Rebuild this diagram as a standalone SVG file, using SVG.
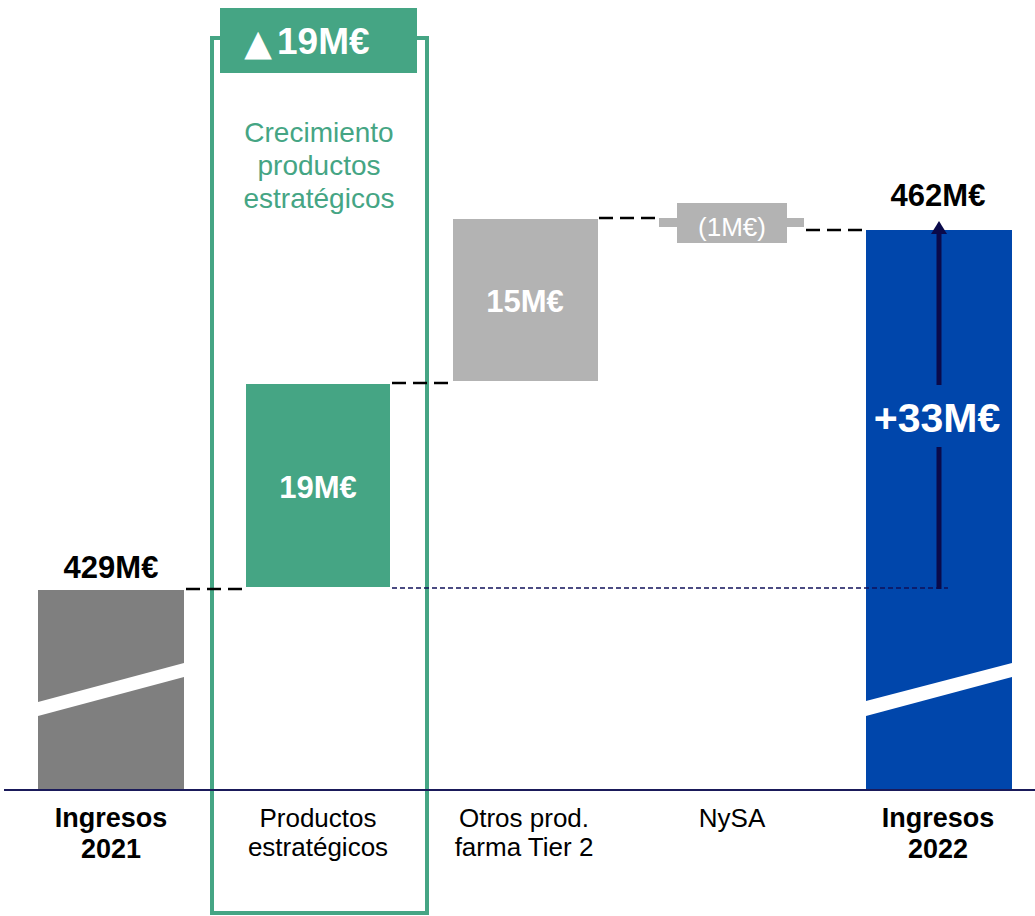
<svg xmlns="http://www.w3.org/2000/svg" width="1035" height="916" viewBox="0 0 1035 916">
<style>
text{font-family:"Liberation Sans",Arial,sans-serif;text-anchor:middle}
.b{font-weight:bold}
.lbl{font-size:26px;fill:#000}
.lblb{font-size:27px;fill:#000;font-weight:bold}
.val{font-size:31px;fill:#fff;font-weight:bold}
.dash{stroke:#000;stroke-width:2.5;stroke-dasharray:14 7;fill:none}
</style>
<rect width="1035" height="916" fill="#fff"/>
<g id="highlight">
<rect x="212" y="38" width="215" height="875" fill="none" stroke="#45a584" stroke-width="4"/>
<rect x="220" y="8" width="197" height="65" fill="#45a584"/>
<text x="258" y="55" style="font-family:'DejaVu Sans',sans-serif;font-size:36px" fill="#fff">▲</text>
<text x="277" y="54" class="b" style="text-anchor:start;font-size:37px" fill="#fff">19M€</text>
<text x="319" y="142" style="font-size:28px" fill="#45a584">Crecimiento</text>
<text x="319" y="175" style="font-size:28px" fill="#45a584">productos</text>
<text x="319" y="208" style="font-size:28px" fill="#45a584">estratégicos</text>
</g>
<g id="bar2021">
<rect x="38" y="590" width="146" height="200" fill="#7f7f7f"/>
<polygon points="38,702 184,663 184,677 38,716" fill="#fff"/>
<text x="111" y="578" class="b" style="font-size:31px">429M€</text>
<text x="111" y="827" class="lblb">Ingresos</text>
<text x="111" y="858" class="lblb">2021</text>
</g>
<g id="bar-estrategicos">
<rect x="246" y="384" width="144" height="203" fill="#45a584"/>
<text x="318" y="498" class="val">19M€</text>
<text x="318" y="827" class="lbl">Productos</text>
<text x="318" y="856" class="lbl">estratégicos</text>
</g>
<g id="bar-otros">
<rect x="453" y="219" width="145" height="162" fill="#b3b3b3"/>
<text x="525" y="312" class="val">15M€</text>
<text x="524" y="827" class="lbl">Otros prod.</text>
<text x="524" y="856" class="lbl">farma Tier 2</text>
</g>
<g id="bar-nysa">
<rect x="659" y="218" width="145" height="9" fill="#b3b3b3"/>
<rect x="677" y="203" width="110" height="40" fill="#b3b3b3"/>
<text x="732" y="236" style="font-size:26px" fill="#fff">(1M€)</text>
<text x="732" y="827" class="lbl">NySA</text>
</g>
<g id="bar2022">
<rect x="866" y="230" width="146" height="560" fill="#0046ab"/>
<polygon points="866,701 1012,663 1012,677 866,716" fill="#fff"/>
<text x="938" y="206" class="b" style="font-size:31px">462M€</text>
<text x="938" y="827" class="lblb">Ingresos</text>
<text x="938" y="858" class="lblb">2022</text>
</g>
<g id="connectors">
<line x1="186" y1="589" x2="245" y2="589" class="dash"/>
<line x1="392" y1="383" x2="452" y2="383" class="dash"/>
<line x1="599" y1="218" x2="659" y2="218" class="dash"/>
<line x1="806" y1="230" x2="866" y2="230" class="dash"/>
<line x1="392" y1="588" x2="948" y2="588" stroke="#10105a" stroke-width="1.5" stroke-dasharray="5 3"/>
<line x1="4" y1="790" x2="1035" y2="790" stroke="#1a1a5a" stroke-width="2"/>
<line x1="939" y1="589" x2="939" y2="447" stroke="#0a0a4a" stroke-width="5"/>
<line x1="939" y1="385" x2="939" y2="232" stroke="#0a0a4a" stroke-width="5"/>
<polygon points="939,221 931,234 947,234" fill="#0a0a4a"/>
</g>
<g id="total-label">
<text x="937" y="432" class="b" style="font-size:41px" fill="#fff">+33M€</text>
</g>
</svg>
